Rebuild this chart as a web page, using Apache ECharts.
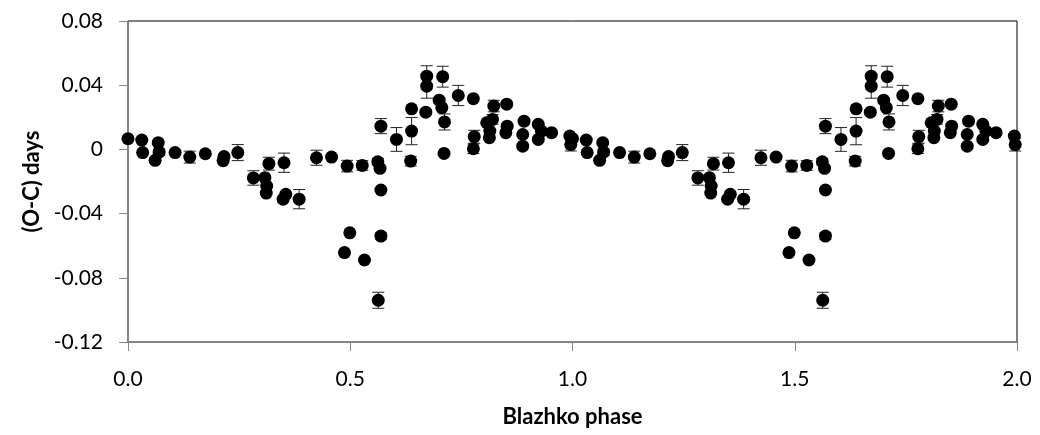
<!DOCTYPE html>
<html>
<head>
<meta charset="utf-8">
<script src="https://cdn.jsdelivr.net/npm/echarts@6/dist/echarts.min.js"></script>
<style>
html,body{margin:0;padding:0;background:#fff;}
#chart{width:1040px;height:435px;}
</style>
</head>
<body>
<div id="chart"></div>
<script>
// Blazhko phase (first cycle, 0..1); the chart plots each point again one cycle later
const phase = [0.000,0.031,0.033,0.068,0.070,0.061,0.106,0.139,0.174,0.216,0.214,0.247,0.282,0.308,0.312,0.311,0.317,0.351,0.349,0.355,0.385,0.424,0.458,0.487,0.493,0.499,0.527,0.532,0.562,0.563,0.567,0.569,0.569,0.569,0.604,0.636,0.638,0.638,0.670,0.672,0.672,0.700,0.706,0.708,0.712,0.711,0.743,0.777,0.779,0.777,0.807,0.814,0.813,0.823,0.820,0.852,0.853,0.850,0.891,0.888,0.888,0.923,0.923,0.930,0.953,0.994,0.996];
// (O-C) in days
const oc = [0.0067,0.0058,-0.0020,0.0042,-0.0017,-0.0068,-0.0020,-0.0048,-0.0027,-0.0045,-0.0070,-0.0020,-0.0178,-0.0176,-0.0228,-0.0272,-0.0089,-0.0083,-0.0310,-0.0280,-0.0310,-0.0052,-0.0048,-0.0643,-0.0104,-0.0520,-0.0100,-0.0689,-0.0077,-0.0940,-0.0118,-0.0253,-0.0540,0.0145,0.0062,-0.0073,0.0114,0.0253,0.0232,0.0456,0.0394,0.0307,0.0260,0.0453,0.0171,-0.0025,0.0336,0.0316,0.0079,0.0004,0.0166,0.0114,0.0073,0.0270,0.0187,0.0282,0.0145,0.0104,0.0176,0.0093,0.0020,0.0156,0.0062,0.0114,0.0104,0.0083,0.0030];
// error (half length), 0 = no bar drawn
const err = [0,0,0,0,0.002,0,0,0.0037,0,0,0,0.005,0.0045,0,0,0,0.004,0.006,0,0,0.006,0.0047,0,0,0.0036,0,0.003,0,0.002,0.005,0,0,0.002,0.0047,0.0074,0.003,0.0085,0,0,0.0065,0.0075,0,0,0.0065,0.005,0,0.0063,0,0.004,0.003,0,0,0,0.0036,0.003,0,0,0,0,0,0,0,0,0,0,0,0.004];
const cycleShift = [0, 1];
const xTicks = ['0.0','0.5','1.0','1.5','2.0'];
const yTicks = ['-0.12','-0.08','-0.04','0','0.04','0.08'];

const pts = [];
const bars = [];
cycleShift.forEach(s => {
  phase.forEach((p, i) => {
    pts.push([p + s, oc[i]]);
    if (err[i] > 0) bars.push([p + s, oc[i] - err[i], oc[i] + err[i]]);
  });
});

const font = 'Lato, "Open Sans", "Liberation Sans", sans-serif';
const chart = echarts.init(document.getElementById('chart'), null, {renderer: 'canvas'});
chart.setOption({
  animation: false,
  backgroundColor: '#fff',
  grid: {left: 128, right: 23, top: 21, bottom: 93, containLabel: false, outerBoundsMode: 'none',
    show: true, borderColor: '#000', borderWidth: 1},
  xAxis: {
    type: 'value', min: 0, max: 2, interval: 0.5,
    name: 'Blazhko phase', nameLocation: 'middle', nameGap: 64,
    nameTextStyle: {fontFamily: font, fontWeight: 'bold', fontSize: 22, color: '#000'},
    axisLine: {show: true, onZero: false, lineStyle: {color: '#868686', width: 1.5}},
    axisTick: {show: true, inside: false, length: 9, lineStyle: {color: '#868686'}},
    axisLabel: {fontFamily: font, fontSize: 21, color: '#000', margin: 27,
      formatter: v => xTicks[Math.round(v / 0.5)]},
    splitLine: {show: false}
  },
  yAxis: {
    type: 'value', min: -0.12, max: 0.08, interval: 0.04,
    name: '(O-C) days', nameLocation: 'middle', nameGap: 77, nameRotate: 90,
    nameTextStyle: {fontFamily: font, fontWeight: 'bold', fontSize: 22, color: '#000'},
    axisLine: {show: true, onZero: false, lineStyle: {color: '#868686', width: 1.5}},
    axisTick: {show: true, inside: false, length: 9, lineStyle: {color: '#868686'}},
    axisLabel: {fontFamily: font, fontSize: 21, color: '#000', margin: 25,
      formatter: v => yTicks[Math.round((v + 0.12) / 0.04)]},
    splitLine: {show: false}
  },
  series: [
    {
      type: 'custom',
      data: bars,
      z: 1,
      renderItem: function (params, api) {
        const x = api.value(0);
        const lo = api.coord([x, api.value(1)]);
        const hi = api.coord([x, api.value(2)]);
        const w = 6;
        const style = {stroke: '#222', lineWidth: 1};
        return {
          type: 'group',
          children: [
            {type: 'line', shape: {x1: lo[0], y1: lo[1], x2: hi[0], y2: hi[1]}, style: style},
            {type: 'line', shape: {x1: lo[0] - w, y1: lo[1], x2: lo[0] + w, y2: lo[1]}, style: style},
            {type: 'line', shape: {x1: hi[0] - w, y1: hi[1], x2: hi[0] + w, y2: hi[1]}, style: style}
          ]
        };
      }
    },
    {
      type: 'scatter',
      data: pts,
      z: 2,
      symbol: 'circle',
      symbolSize: 13,
      itemStyle: {color: '#000', opacity: 1},
      clip: false
    }
  ]
});
</script>
</body>
</html>
